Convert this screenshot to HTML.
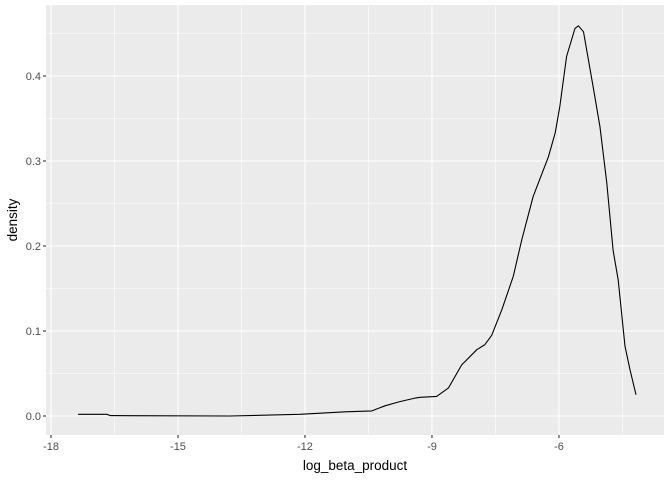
<!DOCTYPE html>
<html><head><meta charset="utf-8"><style>
body{margin:0;background:#fff;}
svg{display:block;font-family:"Liberation Sans",Arial,sans-serif;}
</style></head><body>
<svg id="chart" width="672" height="480"></svg>
<script>
const xs=[-17.36,-16.68,-16.6,-13.77,-12.12,-11.05,-10.42,-10.11,-9.76,-9.40,-9.28,-8.89,-8.61,-8.30,-7.94,-7.75,-7.59,-7.35,-7.08,-6.88,-6.61,-6.25,-6.09,-5.98,-5.82,-5.62,-5.54,-5.42,-5.19,-5.03,-4.87,-4.72,-4.60,-4.44,-4.32,-4.18];
const ys=[0.002,0.002,0.0005,0.0,0.002,0.005,0.006,0.012,0.017,0.021,0.022,0.023,0.033,0.060,0.078,0.084,0.095,0.125,0.164,0.207,0.258,0.305,0.333,0.364,0.423,0.456,0.459,0.452,0.387,0.340,0.274,0.195,0.160,0.082,0.054,0.025];
const xTicks=[-18,-15,-12,-9,-6];
const yTicks=[0.0,0.1,0.2,0.3,0.4];
const xTickLabels=["-18","-15","-12","-9","-6"];
const yTickLabels=["0.0","0.1","0.2","0.3","0.4"];

const svg=document.getElementById('chart');
const NS='http://www.w3.org/2000/svg';
const L=46,R=664,T=5,B=435;
const sx=v=>51+(v+18)*42.33;
const sy=v=>416-v*850;
function mk(tag,attrs,parent){const e=document.createElementNS(NS,tag);for(const k in attrs)e.setAttribute(k,attrs[k]);(parent||svg).appendChild(e);return e;}
const panel=mk('rect',{x:L,y:T,width:R-L,height:B-T,fill:'#ebebeb'});


for(let i=0;i<xTicks.length;i++){const v=xTicks[i]+1.5;const px=sx(v);if(px<R){const g=mk('line',{x1:px,x2:px,y1:T,y2:B,stroke:'#fff','stroke-width':0.55});}}
for(let i=0;i<yTicks.length;i++){const py=sy(yTicks[i]+0.05);const g=mk('line',{x1:L,x2:R,y1:py,y2:py,stroke:'#fff','stroke-width':0.55});}
for(let i=0;i<xTicks.length;i++){const px=sx(xTicks[i]);
const g=mk('line',{x1:px,x2:px,y1:T,y2:B,stroke:'#fff','stroke-width':1.1});
const t=mk('line',{x1:px,x2:px,y1:B,y2:B+3,stroke:'#333','stroke-width':1.1});
const l=mk('text',{x:px,y:B+15,'text-anchor':'middle','font-size':11,fill:'#4d4d4d'});l.textContent=xTickLabels[i];}
for(let i=0;i<yTicks.length;i++){const py=sy(yTicks[i]);
const g=mk('line',{x1:L,x2:R,y1:py,y2:py,stroke:'#fff','stroke-width':1.1});
const t=mk('line',{x1:L-3,x2:L,y1:py,y2:py,stroke:'#333','stroke-width':1.1});
const l=mk('text',{x:L-5,y:py+4,'text-anchor':'end','font-size':11,fill:'#4d4d4d'});l.textContent=yTickLabels[i];}
let d='';for(let i=0;i<xs.length;i++){d+=(i?'L':'M')+sx(xs[i]).toFixed(1)+','+sy(ys[i]).toFixed(1);}
const path=mk('path',{d:d,fill:'none',stroke:'#000','stroke-width':1.1,'stroke-linejoin':'round'});


const xt=mk('text',{x:(L+R)/2,y:470,'text-anchor':'middle','font-size':13.5,fill:'#000'});xt.textContent='log_beta_product';


const yt=mk('text',{x:0,y:0,'text-anchor':'middle','font-size':13.5,fill:'#000',transform:'translate(17,'+((T+B)/2)+') rotate(-90)'});yt.textContent='density';


</script>
</body></html>
